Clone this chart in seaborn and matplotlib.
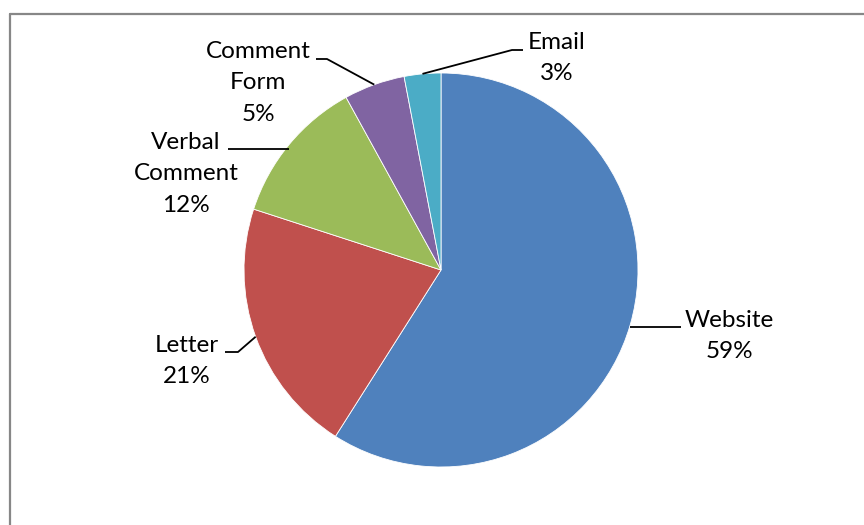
import matplotlib
matplotlib.use("Agg")
import matplotlib.pyplot as plt
import seaborn as sns
import numpy as np
from matplotlib.lines import Line2D

sns.set_theme(style="white")
plt.rcParams['font.family'] = ['Lato', 'DejaVu Sans']

categories = ["Website", "Letter", "Verbal\nComment", "Comment\nForm", "Email"]
values = [59, 21, 12, 5, 3]
colors = ["#4F81BD", "#C0504D", "#9BBB59", "#8064A2", "#4BACC6"]

W, H = 864, 525
fig = plt.figure(figsize=(W / 100, H / 100), dpi=100)

cx, cy, R = 441, 270, 197
ax = fig.add_axes([(cx - R) / W, (H - cy - R) / H, 2 * R / W, 2 * R / H])
wedges, _ = ax.pie(values, colors=colors, startangle=90, counterclock=False,
                   radius=1, wedgeprops=dict(edgecolor="white", linewidth=0.6))
ax.set_xlim(-1, 1)
ax.set_ylim(-1, 1)
ax.set_aspect("equal")
ax.axis("off")

def d(px, py):
    return ((px - cx) / R, (cy - py) / R)

# label layout (pixel positions): text center, elbow, line end near text
layout = {
    "Website": dict(text=(729, 336), elbow=None, end=(681, 327)),
    "Letter": dict(text=(187, 361), elbow=(238, 352), end=(225, 352)),
    "Verbal\nComment": dict(text=(186, 174), elbow=None, end=(228, 149)),
    "Comment\nForm": dict(text=(258, 83), elbow=(327, 59), end=(316, 59)),
    "Email": dict(text=(557, 58), elbow=(512, 50), end=(523, 50)),
}

total = sum(values)
cum = 0
for cat, v in zip(categories, values):
    mid = 90 - 360 * (cum + v / 2) / total
    cum += v
    ex, ey = np.cos(np.radians(mid)), np.sin(np.radians(mid))
    L = layout[cat]
    endx, endy = d(*L["end"])
    if L["elbow"] is None:
        pts = [(ex, endy), (endx, endy)]
    else:
        pts = [(ex, ey), d(*L["elbow"]), (endx, endy)]
    xs, ys = zip(*pts)
    ax.plot(xs, ys, color="black", lw=1.3, clip_on=False, solid_capstyle="butt")
    tx, ty = d(*L["text"])
    ax.text(tx, ty, f"{cat}\n{v}%", ha="center", va="center", fontsize=17.5,
            color="black", linespacing=1.62, clip_on=False)

# chart area frame
fig.add_artist(Line2D([10 / W, 10 / W], [0, (H - 14) / H], color="#878787", lw=1.6,
                      transform=fig.transFigure))
fig.add_artist(Line2D([10 / W, 1], [(H - 14) / H, (H - 14) / H], color="#878787", lw=1.6,
                      transform=fig.transFigure))

fig.savefig("out.png", dpi=100, facecolor="white")
